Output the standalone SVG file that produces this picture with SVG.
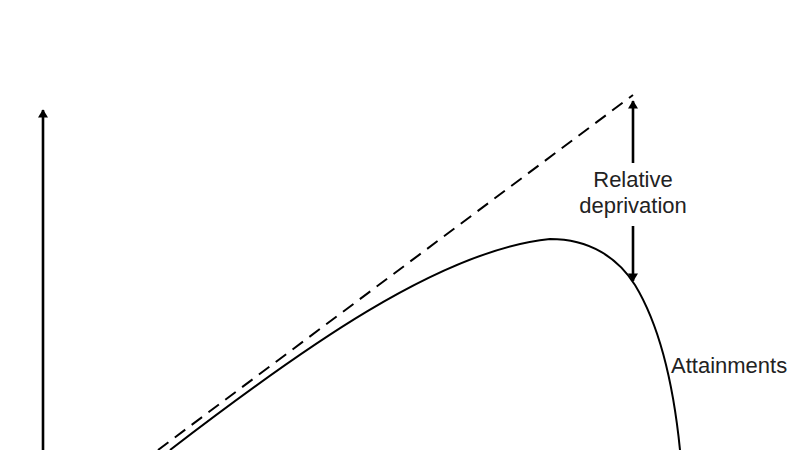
<svg xmlns="http://www.w3.org/2000/svg" width="800" height="450" viewBox="0 0 800 450">
<defs>
<marker id="ah" viewBox="0 0 10 12" refX="9" refY="6" markerWidth="11" markerHeight="10" markerUnits="userSpaceOnUse" orient="auto">
<path d="M0,0 L10,6 L0,12 z" fill="#000"/>
</marker>
<style>
.ln{stroke:#000;stroke-width:2;fill:none}
.ar{stroke:#000;stroke-width:2.6;fill:none}
.lbl{font-family:"Liberation Sans",Arial,sans-serif;font-size:22px;fill:#222}
</style>
</defs>
<rect width="800" height="450" fill="#fff"/>
<g id="connectors">
<line id="y-axis" class="ar" x1="43" y1="450" x2="43" y2="110" marker-end="url(#ah)"/>
<line id="potential" class="ln" x1="158" y1="450" x2="633" y2="95" stroke-dasharray="13,8"/>
<path id="attainments-curve" class="ln" d="M170,450 C300,350 440,250 550,239 C590,239 618,258 635,285 C655,318 672,370 680,450"/>
<line id="rd-up" class="ar" x1="633" y1="163" x2="633" y2="101" marker-end="url(#ah)"/>
<line id="rd-down" class="ar" x1="633" y1="226" x2="633" y2="281" marker-end="url(#ah)"/>
</g>
<g id="label-rd">
<text class="lbl" x="633" y="187" text-anchor="middle">Relative</text>
<text class="lbl" x="633" y="213" text-anchor="middle">deprivation</text>
</g>
<g id="label-attainments">
<text class="lbl" x="671" y="373">Attainments</text>
</g>
</svg>
